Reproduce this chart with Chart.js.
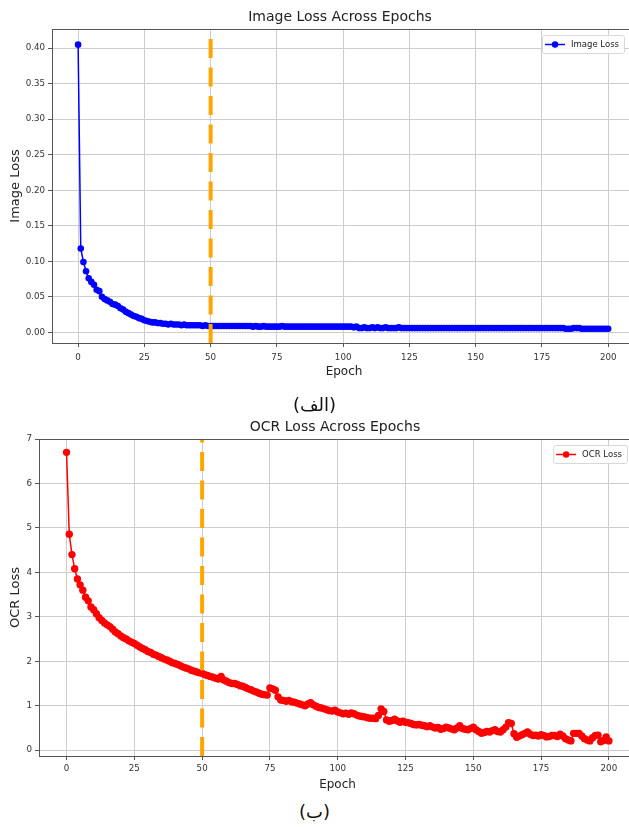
<!DOCTYPE html>
<html>
<head>
<meta charset="utf-8">
<script src="https://cdn.jsdelivr.net/npm/chart.js@4"></script>
<style>
  html, body { margin: 0; padding: 0; background: #fff; }
  body { width: 629px; height: 827px; position: relative; overflow: hidden; }
  .box { position: absolute; left: 0; width: 640px; }
  .cap { position: absolute; left: 0; width: 629px; text-align: center; font: 18px 'DejaVu Sans', sans-serif; color: #111; line-height: 24px; }
</style>
</head>
<body>
<div class="box" style="top:0; height:385px;"><canvas id="imgChart"></canvas></div>
<div class="box" style="top:410px; height:388px;"><canvas id="ocrChart"></canvas></div>
<div class="cap" style="top:393px;" dir="rtl">(الف)</div>
<div class="cap" style="top:800px;" dir="rtl">(ب)</div>
<script>
// epochs 0..200
const epochs = Array.from({ length: 201 }, (_, i) => i);

const imageLoss = [
  0.405, 0.118, 0.099, 0.086, 0.076, 0.071, 0.067, 0.060, 0.058, 0.050,
  0.047, 0.045, 0.043, 0.040, 0.039, 0.037, 0.034, 0.032, 0.029, 0.027,
  0.025, 0.023, 0.022, 0.020, 0.019, 0.017, 0.016, 0.015, 0.014, 0.014,
  0.013, 0.013, 0.012, 0.012, 0.011, 0.012, 0.011, 0.011, 0.011, 0.010,
  0.011, 0.010, 0.010, 0.010, 0.010, 0.010, 0.010, 0.009, 0.010, 0.009,
  0.009, 0.009, 0.009, 0.009, 0.009, 0.009, 0.009, 0.009, 0.009, 0.009,
  0.009, 0.009, 0.009, 0.009, 0.009, 0.009, 0.008, 0.009, 0.008, 0.008,
  0.009, 0.008, 0.008, 0.008, 0.008, 0.008, 0.008, 0.009, 0.008, 0.008,
  0.008, 0.008, 0.008, 0.008, 0.008, 0.008, 0.008, 0.008, 0.008, 0.008,
  0.008, 0.008, 0.008, 0.008, 0.008, 0.008, 0.008, 0.008, 0.008, 0.008,
  0.008, 0.008, 0.008, 0.008, 0.007, 0.008, 0.006, 0.006, 0.007, 0.006,
  0.006, 0.007, 0.006, 0.007, 0.006, 0.006, 0.007, 0.006, 0.006, 0.006,
  0.006, 0.007, 0.006, 0.006, 0.006, 0.006, 0.006, 0.006, 0.006, 0.006,
  0.006, 0.006, 0.006, 0.006, 0.006, 0.006, 0.006, 0.006, 0.006, 0.006,
  0.006, 0.006, 0.006, 0.006, 0.006, 0.006, 0.006, 0.006, 0.006, 0.006,
  0.006, 0.006, 0.006, 0.006, 0.006, 0.006, 0.006, 0.006, 0.006, 0.006,
  0.006, 0.006, 0.006, 0.006, 0.006, 0.006, 0.006, 0.006, 0.006, 0.006,
  0.006, 0.006, 0.006, 0.006, 0.006, 0.006, 0.006, 0.006, 0.006, 0.006,
  0.006, 0.006, 0.006, 0.006, 0.005, 0.005, 0.005, 0.006, 0.006, 0.006,
  0.005, 0.005, 0.005, 0.005, 0.005, 0.005, 0.005, 0.005, 0.005, 0.005,
  0.005
];

const ocrLoss = [
  6.70, 4.86, 4.40, 4.08, 3.85, 3.72, 3.60, 3.44, 3.36, 3.22,
  3.16, 3.07, 2.98, 2.92, 2.86, 2.82, 2.78, 2.72, 2.66, 2.62,
  2.57, 2.53, 2.50, 2.46, 2.43, 2.40, 2.36, 2.32, 2.29, 2.26,
  2.22, 2.20, 2.16, 2.14, 2.11, 2.08, 2.05, 2.03, 2.00, 1.97,
  1.95, 1.93, 1.90, 1.87, 1.85, 1.83, 1.80, 1.78, 1.76, 1.74,
  1.73, 1.70, 1.68, 1.66, 1.64, 1.62, 1.60, 1.66, 1.58, 1.55,
  1.52, 1.50, 1.50, 1.48, 1.45, 1.44, 1.41, 1.38, 1.36, 1.33,
  1.31, 1.28, 1.26, 1.25, 1.24, 1.40, 1.38, 1.35, 1.20, 1.13,
  1.12, 1.10, 1.12, 1.09, 1.08, 1.06, 1.04, 1.02, 1.00, 1.04,
  1.07, 1.02, 0.99, 0.96, 0.95, 0.93, 0.91, 0.89, 0.88, 0.90,
  0.86, 0.84, 0.82, 0.83, 0.81, 0.84, 0.82, 0.79, 0.77, 0.76,
  0.75, 0.73, 0.72, 0.72, 0.71, 0.78, 0.93, 0.87, 0.68, 0.65,
  0.67, 0.70, 0.66, 0.63, 0.65, 0.63, 0.62, 0.60, 0.58, 0.57,
  0.58, 0.56, 0.55, 0.53, 0.55, 0.52, 0.50, 0.51, 0.47, 0.49,
  0.52, 0.50, 0.48, 0.46, 0.50, 0.55, 0.49, 0.47, 0.46, 0.49,
  0.52, 0.46, 0.42, 0.38, 0.40, 0.42, 0.41, 0.44, 0.46, 0.42,
  0.41, 0.46, 0.52, 0.62, 0.60, 0.37, 0.29, 0.32, 0.35, 0.38,
  0.41, 0.36, 0.33, 0.34, 0.32, 0.35, 0.33, 0.30, 0.31, 0.33,
  0.33, 0.31, 0.36, 0.32, 0.26, 0.23, 0.21, 0.38, 0.38, 0.38,
  0.32, 0.26, 0.23, 0.21, 0.28, 0.33, 0.34, 0.19, 0.22, 0.30,
  0.21
];

const epochTicks = [0, 25, 50, 75, 100, 125, 150, 175, 200];
const imageTicks = [0, 0.05, 0.10, 0.15, 0.20, 0.25, 0.30, 0.35, 0.40];
const ocrTicks = [0, 1, 2, 3, 4, 5, 6, 7];
const cutEpoch = 50;

const FONT = "'DejaVu Sans', sans-serif";
const GRID = '#cdcdcd';
const SPINE = '#555';

// vertical cut line, top spine, title, legend box
const decor = {
  id: 'decor',
  afterDatasetsDraw(chart) {
    const { ctx, chartArea: a, scales: { x } } = chart;
    const px = x.getPixelForValue(cutEpoch);
    ctx.save();
    ctx.strokeStyle = '#FFA500';
    ctx.lineWidth = 4;
    ctx.setLineDash([19, 9.5]);
    ctx.beginPath();
    ctx.moveTo(px, a.bottom);
    ctx.lineTo(px, a.top);
    ctx.stroke();
    ctx.restore();
  },
  afterDraw(chart, args, opts) {
    const { ctx, chartArea: a } = chart;
    const ds = chart.data.datasets[0];
    ctx.save();
    ctx.strokeStyle = SPINE;
    ctx.lineWidth = 1;
    ctx.beginPath();
    ctx.moveTo(a.left, a.top + 0.5);
    ctx.lineTo(a.right, a.top + 0.5);
    ctx.stroke();
    // title
    ctx.fillStyle = '#222';
    ctx.font = '14px ' + FONT;
    ctx.textAlign = 'center';
    ctx.textBaseline = 'middle';
    ctx.fillText(opts.title, opts.titleX, a.top - 12);
    // legend (page is clipped at 629, so anchor to a fixed right edge)
    ctx.font = '8.5px ' + FONT;
    const tw = ctx.measureText(ds.label).width;
    const w = 30 + tw + 4, h = 18;
    const bx = opts.legendRight - w, by = a.top + 6;
    ctx.fillStyle = 'rgba(255,255,255,0.85)';
    ctx.strokeStyle = '#d8d8d8';
    ctx.beginPath();
    ctx.roundRect(bx + 0.5, by + 0.5, w, h, 2);
    ctx.fill();
    ctx.stroke();
    const my = by + h / 2 + 0.5;
    ctx.strokeStyle = ds.borderColor;
    ctx.lineWidth = 1.5;
    ctx.beginPath();
    ctx.moveTo(bx + 3, my);
    ctx.lineTo(bx + 23, my);
    ctx.stroke();
    ctx.fillStyle = ds.borderColor;
    ctx.beginPath();
    ctx.arc(bx + 13, my, 3.2, 0, Math.PI * 2);
    ctx.fill();
    ctx.fillStyle = '#222';
    ctx.textAlign = 'left';
    ctx.fillText(ds.label, bx + 29, my);
    ctx.restore();
  }
};

function lossChart(id, o) {
  return new Chart(document.getElementById(id), {
    type: 'line',
    data: {
      labels: epochs,
      datasets: [{
        label: o.label,
        data: o.values,
        borderColor: o.color,
        backgroundColor: o.color,
        borderWidth: 1.5,
        pointRadius: o.radius,
        pointBorderWidth: 0,
        pointBackgroundColor: o.color,
        tension: 0
      }]
    },
    options: {
      responsive: true,
      maintainAspectRatio: false,
      animation: false,
      layout: { padding: { top: 29, left: 0, right: 0, bottom: 0 } },
      plugins: {
        legend: { display: false },
        tooltip: { enabled: false },
        decor: { title: o.title, titleX: o.titleX, legendRight: o.legendRight }
      },
      scales: {
        x: {
          type: 'linear',
          min: o.xMin, max: o.xMax,
          afterBuildTicks: s => { s.ticks = epochTicks.map(v => ({ value: v })); },
          afterFit: s => { s.height = 42; s.paddingLeft = 0; s.paddingRight = 0; },
          grid: { color: GRID, tickColor: SPINE, tickLength: 4 },
          border: { color: SPINE },
          ticks: { font: { size: 8.7, family: FONT }, color: '#333', padding: o.tickPad, maxRotation: 0 },
          title: { display: true, text: 'Epoch', font: { size: 12, family: FONT }, color: '#222', padding: { top: 0, bottom: o.epochPad } }
        },
        y: {
          min: o.yMin, max: o.yMax,
          afterBuildTicks: s => { s.ticks = o.ticks.map(v => ({ value: v })); },
          afterFit: s => { s.width = o.left; s.paddingTop = 0; s.paddingBottom = 0; },
          grid: { color: GRID, tickColor: SPINE, tickLength: 4 },
          border: { color: SPINE },
          ticks: { font: { size: 8.7, family: FONT }, color: '#333', padding: 3, callback: o.fmt },
          title: { display: true, text: o.yTitle, font: { size: 13, family: FONT }, color: '#222', padding: { top: 8, bottom: 0 } }
        }
      }
    },
    plugins: [decor]
  });
}

lossChart('imgChart', {
  label: 'Image Loss', title: 'Image Loss Across Epochs', yTitle: 'Image Loss', titleX: 340,
  values: imageLoss, color: '#0000ff', ticks: imageTicks, radius: 3.3,
  xMin: -9.85, xMax: 210.5, yMin: -0.015, yMax: 0.427, left: 52, tickPad: 6, epochPad: 6, legendRight: 624,
  fmt: v => v.toFixed(2)
});

lossChart('ocrChart', {
  label: 'OCR Loss', title: 'OCR Loss Across Epochs', yTitle: 'OCR Loss', titleX: 335,
  values: ocrLoss, color: '#ff0000', ticks: ocrTicks, radius: 3.7,
  xMin: -10.16, xMax: 210, yMin: -0.13, yMax: 7.0, left: 39, tickPad: 4, epochPad: 6, legendRight: 627,
  fmt: v => String(v)
});
</script>
</body>
</html>
